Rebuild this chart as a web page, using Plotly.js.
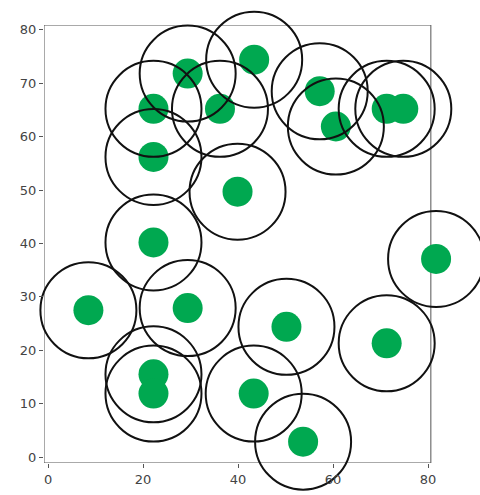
<!DOCTYPE html>
<html>
<head>
<meta charset="utf-8">
<script src="https://cdn.plot.ly/plotly-3.0.1.min.js"></script>
<style>html,body{margin:0;padding:0;background:#fff;}#chart{width:480px;height:495px;}</style>
</head>
<body>
<div id="chart"></div>
<script>
var xValues = [29.4, 43.4, 22.2, 36.2, 57.2, 60.6, 71.3, 74.8, 22.2, 39.9, 22.2, 81.7, 8.5, 29.4, 50.2, 71.3, 22.2, 22.2, 43.3, 53.7];
var yValues = [71.8, 74.4, 65.2, 65.2, 68.5, 61.9, 65.2, 65.2, 56.2, 49.7, 40.2, 37.1, 27.5, 27.9, 24.4, 21.3, 15.5, 11.9, 11.9, 2.9];
var xTicks = [0, 20, 40, 60, 80];
var yTicks = [0, 10, 20, 30, 40, 50, 60, 70, 80];
var frameX = [-0.85, 80.6];
var frameY = [-1.1, 80.9];

var dots = {
  x: xValues, y: yValues, type: 'scatter', mode: 'markers',
  marker: {size: 30, color: '#00a850', line: {width: 0}},
  cliponaxis: false, hoverinfo: 'none'
};
var rings = {
  x: xValues, y: yValues, type: 'scatter', mode: 'markers',
  marker: {size: 96, color: '#111111', symbol: 'circle-open', line: {width: 2, color: '#111111'}},
  cliponaxis: false, hoverinfo: 'none'
};
var axisCommon = {
  showgrid: false, zeroline: false, showline: false,
  ticks: 'outside', ticklen: 4, tickwidth: 1, tickcolor: '#555',
  tickfont: {family: 'DejaVu Sans', size: 13, color: '#444'}
};
var layout = {
  width: 480, height: 495,
  margin: {l: 44, r: 33, t: 25, b: 32},
  paper_bgcolor: '#fff', plot_bgcolor: '#fff',
  showlegend: false,
  xaxis: Object.assign({}, axisCommon, {range: [frameX[0], 84], tickvals: xTicks, ticktext: xTicks.map(String)}),
  yaxis: Object.assign({}, axisCommon, {range: frameY, tickvals: yTicks, ticktext: yTicks.map(String)}),
  shapes: [{type: 'rect', xref: 'x', yref: 'y', x0: frameX[0], x1: frameX[1], y0: frameY[0], y1: frameY[1],
            line: {color: '#555', width: 1}, layer: 'below'}]
};
Plotly.newPlot('chart', [dots, rings], layout, {displayModeBar: false, staticPlot: true});
</script>
</body>
</html>
